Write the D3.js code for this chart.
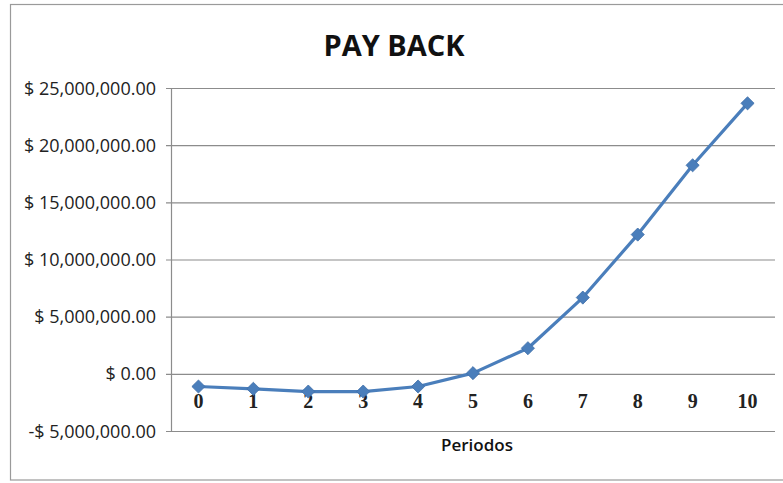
<!DOCTYPE html>
<html><head><meta charset="utf-8">
<script src="https://cdn.jsdelivr.net/npm/d3@7"></script>
<style>body{margin:0;background:#fff}</style>
</head><body>
<svg id="c" width="783" height="483"></svg>
<script>
const periods = ["0","1","2","3","4","5","6","7","8","9","10"];
const values = [-1110000,-1310000,-1550000,-1550000,-1110000,60000,2240000,6670000,12180000,18240000,23660000];
const yTicks = [-5000000,0,5000000,10000000,15000000,20000000,25000000];
const title = "PAY BACK";
const xTitle = "Periodos";

const svg = d3.select("#c");
const L = 171, R = 775, T = 88, B = 431;
svg.append("rect").attr("x",10.5).attr("y",4.5).attr("width",790).attr("height",475.5)
  .attr("fill","#fff").attr("stroke","#9a9a9a").attr("stroke-width",1.2);

const x = d3.scaleBand().domain(periods).range([L,R]);
const y = d3.scaleLinear().domain([-5000000,25000000]).range([B,T]);

const fmt = v => (v<0?"-":"") + "$ " + d3.format(",.2f")(Math.abs(v));

const ya = svg.append("g").attr("transform",`translate(${L},0)`)
  .call(d3.axisLeft(y).tickValues(yTicks).tickSize(R-L).tickSizeOuter(0).tickFormat(fmt).tickPadding(0));
ya.select(".domain").remove();
ya.selectAll(".tick line").attr("x1",-5).attr("x2",R-L).attr("stroke","#8c8c8c").attr("stroke-width",1.2);
ya.selectAll(".tick text").attr("x",-15).attr("dy","0.34em")
  .attr("font-family","Open Sans, sans-serif").attr("font-size",18).attr("fill","#222");
svg.append("line").attr("x1",L+0.5).attr("x2",L+0.5).attr("y1",T).attr("y2",B).attr("stroke","#8c8c8c").attr("stroke-width",1.2);

const xa = svg.append("g").attr("transform",`translate(0,${y(0)})`)
  .call(d3.axisBottom(x).tickSize(0).tickPadding(0));
xa.select(".domain").remove();
xa.selectAll(".tick text").attr("y",34).attr("dy",0)
  .attr("font-family","Liberation Serif, serif").attr("font-size",20).attr("font-weight","bold").attr("fill","#222");

const line = d3.line().x((d,i)=>x(periods[i])+x.bandwidth()/2).y(d=>y(d));
svg.append("path").datum(values).attr("d",line).attr("fill","none")
  .attr("stroke","#4a7ebb").attr("stroke-width",3.2).attr("stroke-linejoin","round");
svg.selectAll(".m").data(values).enter().append("path").attr("class","m")
  .attr("transform",(d,i)=>`translate(${x(periods[i])+x.bandwidth()/2},${y(d)})`)
  .attr("d",d3.symbol(d3.symbolDiamond2,110)()).attr("fill","#4a7ebb").attr("stroke","#3f6fa8").attr("stroke-width",0.8);

svg.append("text").attr("x",394).attr("y",56).attr("text-anchor","middle")
  .attr("font-family","Open Sans, sans-serif").attr("font-weight","bold").attr("font-size",29).attr("fill","#111").text(title);
svg.append("text").attr("x",477).attr("y",451).attr("text-anchor","middle")
  .attr("font-family","Open Sans, sans-serif").attr("font-weight","600").attr("font-size",17).attr("fill","#111").text(xTitle);
</script>
</body></html>
